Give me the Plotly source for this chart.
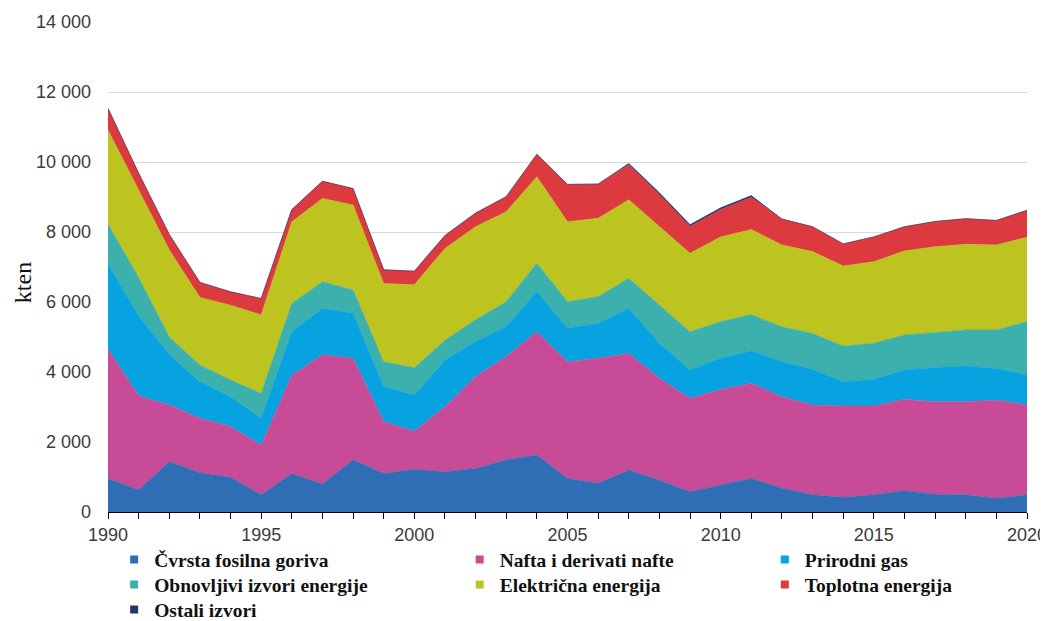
import plotly.graph_objects as go

years = list(range(1990, 2021))

cvrsta = [960, 630, 1440, 1120, 990, 490, 1100, 800, 1490, 1100,
          1220, 1150, 1240, 1490, 1630, 960, 820, 1200, 910, 580,
          770, 960, 680, 490, 420, 490, 610, 510, 490, 390, 490]
nafta = [3690, 2690, 1620, 1560, 1450, 1420, 2810, 3690, 2900, 1480,
         1090, 1860, 2630, 2950, 3520, 3330, 3570, 3330, 2910, 2670,
         2730, 2720, 2610, 2570, 2610, 2540, 2610, 2640, 2660, 2810, 2570]
gas = [2430, 2280, 1440, 1040, 850, 770, 1240, 1330, 1290, 1000,
       1030, 1330, 1000, 860, 1150, 960, 1000, 1290, 1000, 810,
       890, 930, 1000, 1020, 690, 760, 840, 980, 1020, 900, 850]
obnovljivi = [1140, 1100, 500, 480, 480, 710, 810, 760, 660, 710,
              780, 570, 620, 710, 810, 760, 760, 860, 1090, 1090,
              1050, 1030, 1000, 1020, 1020, 1030, 1000, 990, 1030, 1100, 1530]
elektricna = [2690, 2480, 2490, 1930, 2140, 2240, 2330, 2380, 2430, 2240,
              2370, 2620, 2660, 2570, 2470, 2280, 2240, 2240, 2240, 2240,
              2420, 2430, 2340, 2340, 2290, 2330, 2400, 2460, 2450, 2430, 2410]
toplotna = [620, 500, 440, 430, 380, 470, 350, 490, 470, 390,
            390, 370, 390, 430, 640, 1070, 980, 1000, 920, 770,
            780, 920, 740, 710, 630, 710, 690, 720, 730, 700, 770]
ostali = [0, 0, 0, 0, 0, 0, 0, 0, 0, 0,
          0, 0, 0, 0, 0, 0, 0, 40, 50, 50,
          50, 50, 0, 0, 0, 0, 0, 0, 0, 0, 0]

names = ["Čvrsta fosilna goriva", "Nafta i derivati nafte", "Prirodni gas",
         "Obnovljivi izvori energije", "Električna energija", "Toplotna energija",
         "Ostali izvori"]
values = [cvrsta, nafta, gas, obnovljivi, elektricna, toplotna, ostali]
colors = ["#2F6DB5", "#C84B97", "#06A3E0", "#3BB0AD", "#BDC31F", "#DD3A40", "#1B3A6B"]

# legend grid: 3 columns, 3 rows (paper coords relative to plot area)
LEG_X = [0.0067, 0.3827, 0.7147]
LEG_Y = [-0.058, -0.109, -0.160]

fig = go.Figure()
for name, vals, color in zip(names, values, colors):
    fig.add_trace(go.Scatter(
        x=years, y=vals, name=name, stackgroup="one", mode="lines",
        line=dict(width=0.6, color=color), fillcolor=color,
        legendgroup=name, showlegend=False,
    ))

LEG_FONT = dict(family="Liberation Serif, Times New Roman", size=19.5,
                color="#111111", weight="bold")
legends = {}
for i, (name, color) in enumerate(zip(names, colors)):
    key = "legend" if i == 0 else f"legend{i + 1}"
    fig.add_trace(go.Scatter(
        x=[None], y=[None], name=name, mode="markers", legendgroup=name,
        legend=key, marker=dict(symbol="square", size=8, color=color),
    ))
    legends[key] = dict(
        orientation="v", x=LEG_X[i % 3], xanchor="left",
        y=LEG_Y[i // 3], yanchor="top", font=LEG_FONT, itemwidth=30,
        bgcolor="rgba(0,0,0,0)",
    )

# page has an 8px body margin, so the figure is drawn 8px smaller
fig.update_layout(
    width=1040, height=613,
    paper_bgcolor="white", plot_bgcolor="white",
    margin=dict(l=100, r=21, t=14, b=109, autoexpand=False),
    separators=". ",
    font=dict(family="Liberation Sans, Arial", size=18, color="#3A3A3A"),
    annotations=[dict(
        text="kten", textangle=-90, xref="paper", yref="paper",
        x=-0.0925, y=0.469, xanchor="center", yanchor="middle", showarrow=False,
        font=dict(family="Liberation Serif, Times New Roman", size=24, color="#111111"),
    )],
    **legends,
)
fig.update_xaxes(
    range=[1990, 2020], tick0=1990, dtick=5, automargin=False,
    showgrid=False, showline=True, linecolor="#000000", linewidth=1,
    ticks="outside", ticklen=6, tickcolor="#000000",
    minor=dict(dtick=1, ticks="outside", ticklen=6, tickcolor="#000000"),
    tickfont=dict(size=18, color="#3A3A3A"),
)
fig.update_yaxes(
    range=[0, 14000], dtick=2000, tickformat=",d", automargin=False,
    showgrid=True, gridcolor="#D9D9D9", gridwidth=1,
    zeroline=False, showline=False, ticks="",
    ticklabelstandoff=16,
    tickfont=dict(size=18, color="#3A3A3A"),
)

fig.write_html("out.html")
